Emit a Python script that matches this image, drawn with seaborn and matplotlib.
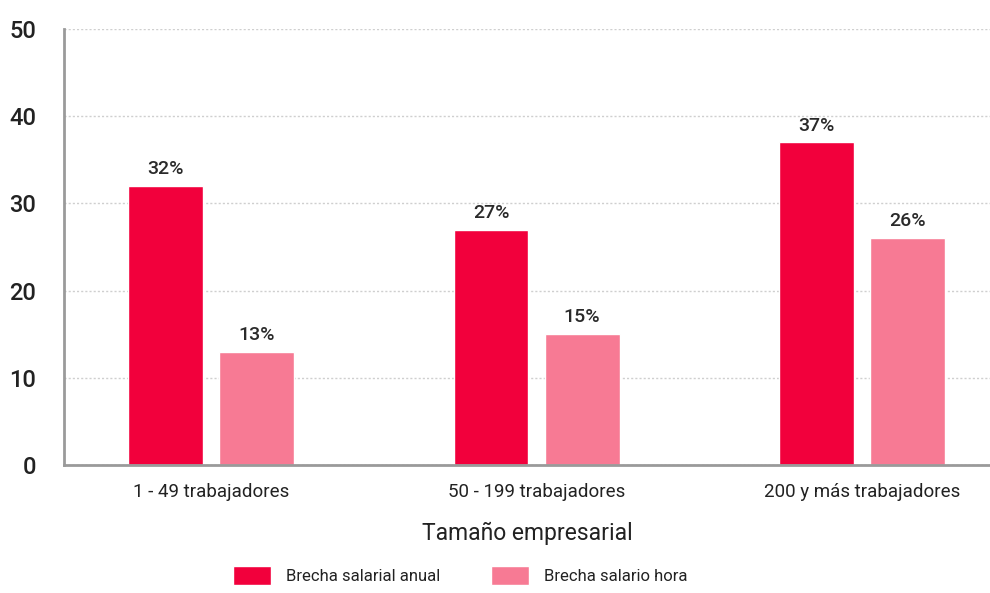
import matplotlib
matplotlib.use("Agg")
import matplotlib.pyplot as plt
import seaborn as sns
import pandas as pd
from matplotlib import font_manager

# Wage gap by company size
categories = ["1 - 49 trabajadores", "50 - 199 trabajadores", "200 y más trabajadores"]
series_names = ["Brecha salarial anual", "Brecha salario hora"]
anual = [32, 27, 37]
hora = [13, 15, 26]

colors = ["#f2003c", "#f77a94"]

sns.set_theme(style="white")
available = {f.name for f in font_manager.fontManager.ttflist}
family = [f for f in ["Liberation Sans Narrow", "Roboto", "DejaVu Sans"] if f in available]
plt.rcParams["font.family"] = family

df = pd.DataFrame({
    "cat": categories * 2,
    "serie": [series_names[0]] * 3 + [series_names[1]] * 3,
    "valor": anual + hora,
})

fig = plt.figure(figsize=(9.9, 5.93), dpi=100)
ax = fig.add_axes([0.0646, 0.2159, 0.9354, 0.7351])

sns.barplot(data=df, x="cat", y="valor", hue="serie", hue_order=series_names,
            palette=colors, width=0.56, gap=0.18, saturation=1, ax=ax,
            legend=True)

for cont in ax.containers:
    for bar in cont:
        h = bar.get_height()
        ax.text(bar.get_x() + bar.get_width() / 2, h + 0.9, f"{h:.0f}%",
                ha="center", va="bottom", fontsize=14, fontweight="medium",
                color="#2a2a2a")

ax.set_ylim(0, 50)
ax.set_xlim(-0.452, 2.393)
ax.set_yticks([0, 10, 20, 30, 40, 50])
ax.tick_params(axis="y", labelsize=17, colors="#222222", length=0, pad=20)
ax.tick_params(axis="x", labelsize=13.5, colors="#222222", length=0, pad=13)
for lab in ax.get_yticklabels():
    lab.set_fontweight("medium")

ax.yaxis.grid(True, linestyle=(0, (1.5, 1.5)), color="#cfcfcf", linewidth=1)
ax.set_axisbelow(True)
for s in ["top", "right"]:
    ax.spines[s].set_visible(False)
ax.spines["left"].set_color("#9a9a9a")
ax.spines["left"].set_linewidth(2)
ax.spines["bottom"].set_color("#9a9a9a")
ax.spines["bottom"].set_linewidth(2)

ax.set_ylabel("")
ax.set_xlabel("Tamaño empresarial", fontsize=16.5, color="#222222", labelpad=15)

handles, labels = ax.get_legend_handles_labels()
ax.get_legend().remove()
fig.legend(handles, labels, loc="upper left", bbox_to_anchor=(0.2354, 1 - 566 / 593),
           ncol=2, frameon=False, fontsize=12, handlelength=2.3,
           handleheight=1.35, handletextpad=0.9, columnspacing=3.0,
           borderpad=0, borderaxespad=0, labelcolor="#222222")

fig.savefig("out.png", dpi=100)
